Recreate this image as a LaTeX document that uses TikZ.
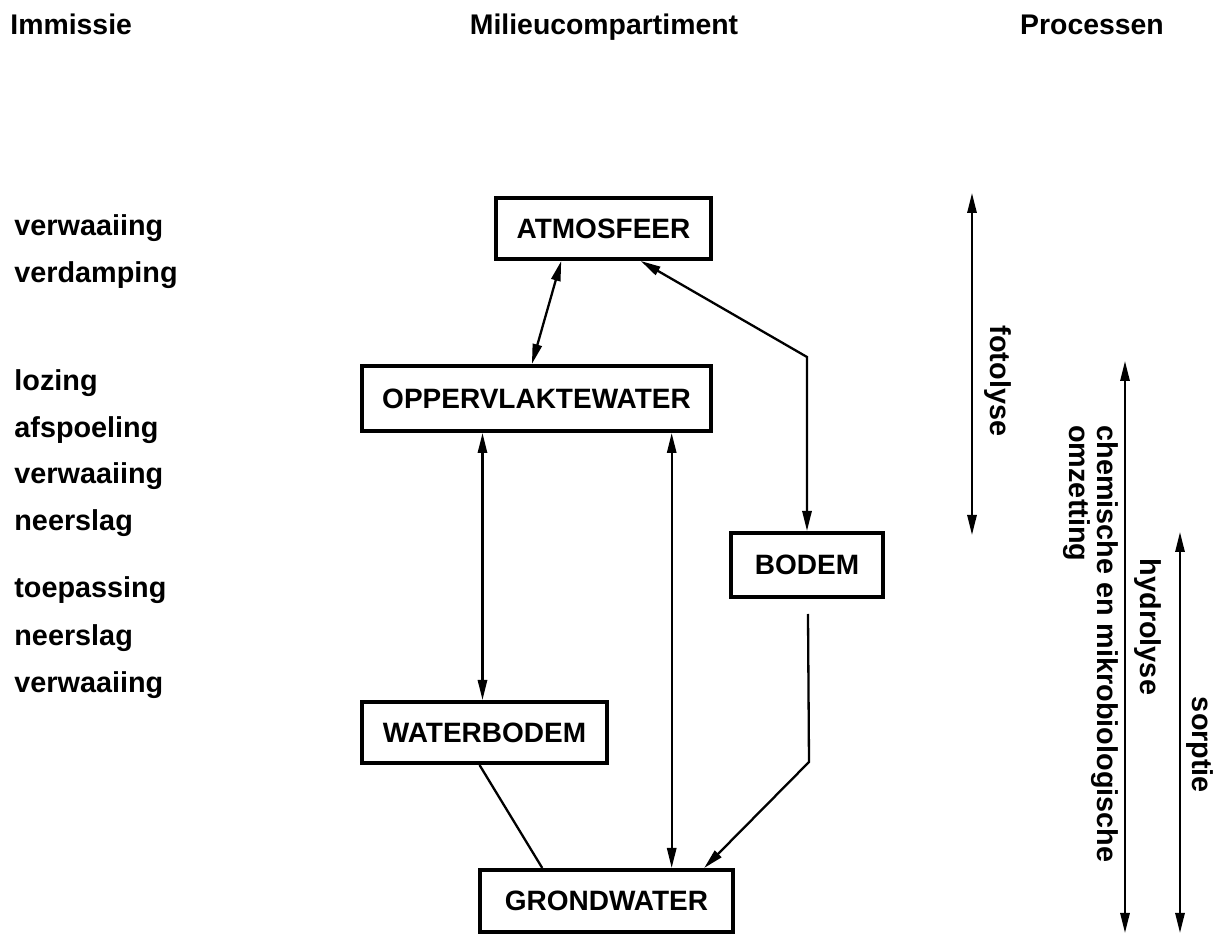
\documentclass[tikz,border=0pt]{standalone}
\usepackage{fontspec}
\setmainfont{Liberation Sans}
\usetikzlibrary{arrows.meta,calc}
\begin{document}
\begin{tikzpicture}[x=0.5pt,y=-0.5pt,
  box/.style={draw, line width=2pt, inner sep=0pt, font=\bfseries\fontsize{14}{16}\selectfont},
  conn/.style={line width=1.15pt},
  dbl/.style={conn, {Triangle[length=10pt,width=4.6pt]}-{Triangle[length=10pt,width=4.6pt]}},
  one/.style={conn, -{Triangle[length=10pt,width=4.6pt]}},
  lbl/.style={anchor=west, inner sep=0pt, font=\bfseries\fontsize{14.4}{17}\selectfont, text height=0.72em, text depth=0.2em},
  hdr/.style={inner sep=0pt, font=\bfseries\fontsize{14.2}{17}\selectfont, text height=0.72em, text depth=0.2em},
  rot/.style={rotate=-90, inner sep=0pt, font=\bfseries\fontsize{14.4}{16}\selectfont},
]
\useasboundingbox (0,0) rectangle (1223,935);
\fill[white] (0,0) rectangle (1223,935);

% headers
\node[hdr, anchor=west] (h1) at (10,29) {Immissie};
\node[hdr] (h2) at (604,29) {Milieucompartiment};
\node[hdr] (h3) at (1092,29) {Processen};

% left labels
\node[lbl] (l1) at (14,230) {verwaaiing};
\node[lbl] (l2) at (14,277) {verdamping};
\node[lbl] (l3) at (14,385) {lozing};
\node[lbl] (l4) at (14,432) {afspoeling};
\node[lbl] (l5) at (14,478) {verwaaiing};
\node[lbl] (l6) at (14,525) {neerslag};
\node[lbl] (l7) at (14,592) {toepassing};
\node[lbl] (l8) at (14,640) {neerslag};
\node[lbl] (l9) at (14,687) {verwaaiing};

% boxes
\node[box, minimum width=107.5pt, minimum height=30.5pt] (atm) at (603.5,228.5) {ATMOSFEER};
\node[box, minimum width=174.5pt, minimum height=32.5pt] (opp) at (536.5,398.5) {OPPERVLAKTEWATER};
\node[box, minimum width=76pt, minimum height=32pt] (bod) at (807,565) {BODEM};
\node[box, minimum width=122.5pt, minimum height=30.5pt] (wb) at (484.5,732.5) {WATERBODEM};
\node[box, minimum width=126.5pt, minimum height=31pt] (gw) at (606.5,901) {GRONDWATER};

% connectors
\draw[dbl] ($(atm.south west)!0.307!(atm.south east)$) -- ($(opp.north west)!0.487!(opp.north east)$);
\coordinate (k1) at (807,357);
\draw[dbl] ($(atm.south west)!0.67!(atm.south east)$) -- (k1) -- (bod.north);
\coordinate (o1) at ($(opp.south west)!0.347!(opp.south east)$);
\draw[dbl] (o1) -- (o1 |- wb.north);
\coordinate (o2) at ($(opp.south west)!0.883!(opp.south east)$);
\draw[dbl] (o2) -- (o2 |- gw.north);
\draw[conn] ($(wb.south west)!0.48!(wb.south east)$) -- ($(gw.north west)!0.25!(gw.north east)$);
\coordinate (b1) at ($(bod.south)+(1,15)$);
\coordinate (b2) at (809,762);
\draw[one] (b1) -- (b2) -- ($(gw.north west)!0.88!(gw.north east)$);

% process arrows
\coordinate (f1) at (972,193); \coordinate (f2) at (972,535);
\draw[dbl] (f1) -- (f2);
\coordinate (hy1) at (1125,361); \coordinate (hy2) at (1125,933);
\draw[dbl] (hy1) -- (hy2);
\coordinate (s1) at (1180,532); \coordinate (s2) at (1180,933);
\draw[dbl] (s1) -- (s2);

% process labels
\node[rot] (fot) at (998,381) {fotolyse};
\node[rot, anchor=west] (chem) at (1105,425) {chemische en mikrobiologische};
\node[rot, anchor=west] (omz) at (1077,425) {omzetting};
\node[rot] (hyd) at (1148,627) {hydrolyse};
\node[rot] (sor) at (1200,745) {sorptie};
\end{tikzpicture}
\end{document}
